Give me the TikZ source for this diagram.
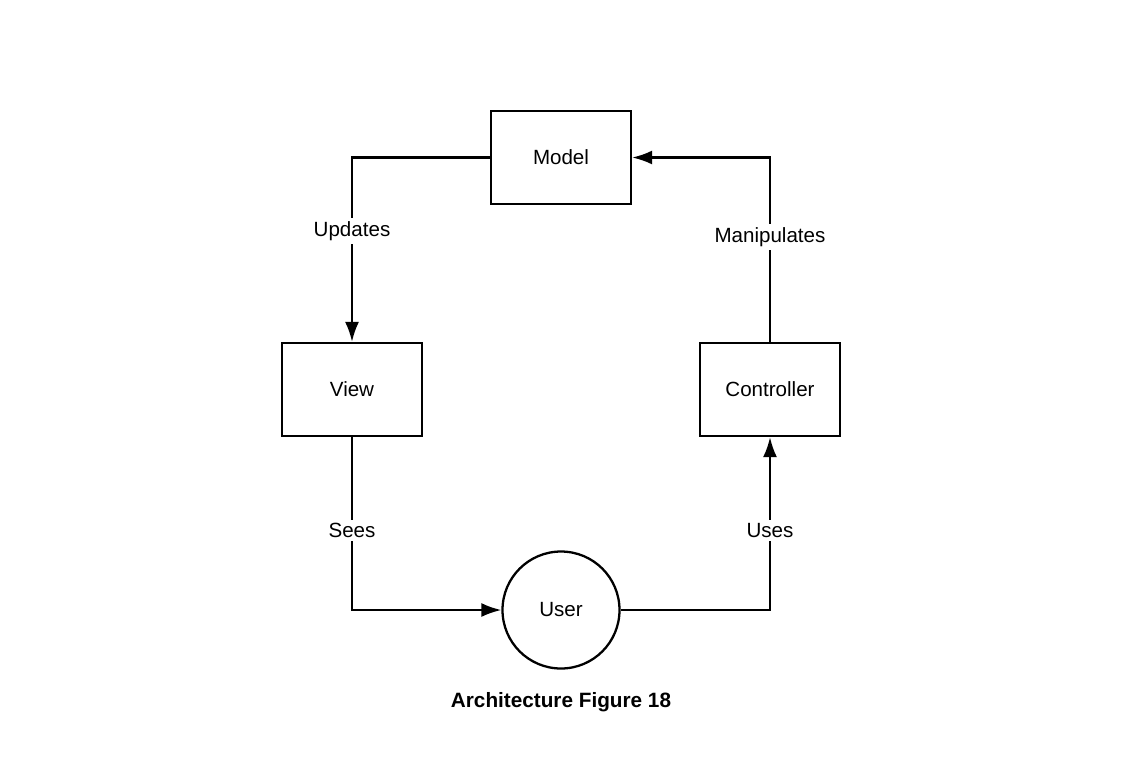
\documentclass[tikz,border=0pt]{standalone}
\usepackage{fontspec}
\setmainfont{Liberation Sans}
\usetikzlibrary{arrows.meta,positioning}
\tikzset{
  block/.style={draw,line width=1.3pt,minimum width=2.8cm,minimum height=1.86cm,font=\fontsize{11.7}{14}\selectfont},
  actor/.style={draw,circle,line width=1.3pt,minimum size=2.34cm,font=\fontsize{11.7}{14}\selectfont},
  flow/.style={->,line width=1.3pt},
  lbl/.style={fill=white,inner sep=2pt,font=\fontsize{11.7}{14}\selectfont}
}

\begin{document}
\begin{tikzpicture}[
      >={Latex[length=0.4cm,width=0.28cm]}
    ]
      \useasboundingbox (0,0) rectangle (22.46,-15.46);
      \node [block] (model) at (11.22,-3.15) {Model};
      \node [block] (view) at (7.04,-7.79) {View};
      \node [block] (ctrl) at (15.40,-7.79) {Controller};
      \node [actor] (user) at (11.22,-12.20) {User};
      \node [font=\bfseries\fontsize{11.8}{14}\selectfont] (caption) at (11.22,-14.04) {Architecture Figure 18};

      \draw[flow] (model.west) -| (view.north) node[lbl,pos=0.70] {Updates};
      \draw[flow] (view.south) |- (user.west) node[lbl,pos=0.27] {Sees};
      \draw[flow] (user.east) -| (ctrl.south) node[lbl,pos=0.73] {Uses};
      \draw[flow] (ctrl.north) |- (model.east) node[lbl,pos=0.285] {Manipulates};
    \end{tikzpicture}
\end{document}
